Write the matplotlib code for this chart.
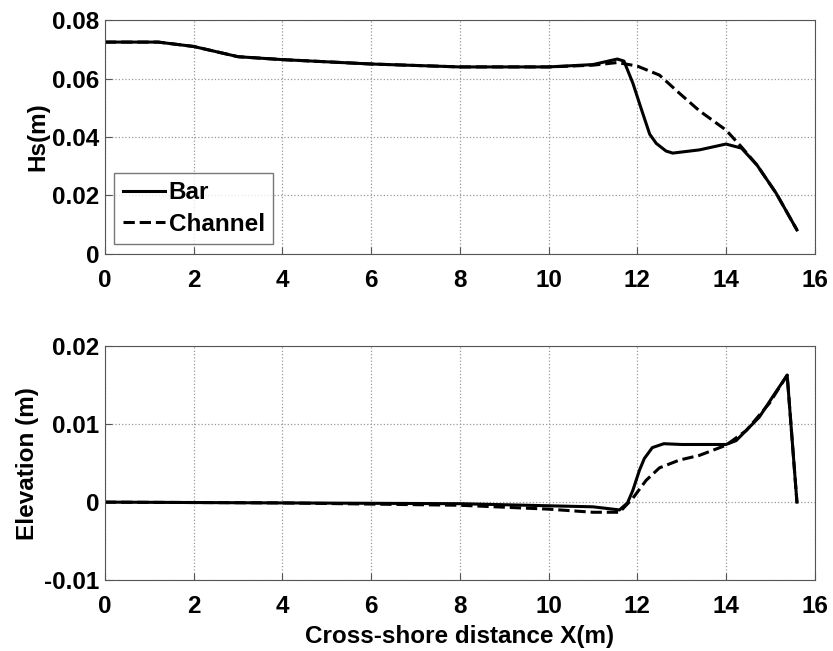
import matplotlib
matplotlib.use("Agg")
import matplotlib.pyplot as plt

# Wave height along the profile
x_hs_bar = [0, 1.2, 2, 3, 4, 6, 8, 10, 11, 11.55, 11.7, 11.9, 12.1, 12.28, 12.43, 12.65, 12.8,
            13.4, 14.0, 14.35, 14.7, 15.13, 15.6]
hs_bar = [0.0725, 0.0725, 0.071, 0.0675, 0.0665, 0.065, 0.064, 0.064, 0.0648, 0.0667, 0.066,
          0.0585, 0.0492, 0.041, 0.0378, 0.0352, 0.0345, 0.0356, 0.0376, 0.0362, 0.0304,
          0.0208, 0.0082]
x_hs_chan = [0, 1.2, 2, 3, 4, 6, 8, 10, 11, 11.55, 12.0, 12.5, 12.95, 13.4, 14.0, 14.35,
             14.7, 15.13, 15.6]
hs_chan = [0.0725, 0.0725, 0.071, 0.0675, 0.0665, 0.065, 0.064, 0.064, 0.0646, 0.0655,
           0.0643, 0.0612, 0.055, 0.049, 0.0424, 0.0366, 0.0304, 0.0208, 0.0082]

# Bed elevation along the profile
x_el_bar = [0, 4, 8, 11, 11.6, 11.78, 11.9, 12.05, 12.16, 12.34, 12.6, 13.0, 14.0, 14.23,
            14.75, 15.05, 15.38, 15.6]
el_bar = [0.0, -0.0001, -0.0002, -0.0006, -0.001, -0.0001, 0.0015, 0.0041, 0.0056, 0.007,
          0.0075, 0.0074, 0.0074, 0.0079, 0.0109, 0.0135, 0.0163, 0.0]
x_el_chan = [0, 4, 8, 10, 11, 11.6, 11.9, 12.2, 12.5, 12.95, 13.4, 14.0, 14.46, 14.98, 15.38, 15.6]
el_chan = [0.0, -0.0001, -0.0004, -0.0009, -0.0013, -0.0013, 0.0005, 0.0028, 0.0044, 0.0054,
           0.006, 0.0073, 0.0092, 0.0127, 0.0163, 0.0]

plt.rcParams['font.family'] = ['Liberation Sans', 'DejaVu Sans']
plt.rcParams['font.weight'] = 'bold'

fs = 17.5
fig = plt.figure(figsize=(8.33, 6.51), dpi=100)
ax1 = fig.add_axes([0.126, 0.610, 0.852, 0.359])
ax2 = fig.add_axes([0.126, 0.109, 0.852, 0.359])

ax1.plot(x_hs_bar, hs_bar, color='black', lw=2.2, label='Bar')
ax1.plot(x_hs_chan, hs_chan, color='black', lw=2.2, ls='--', label='Channel')
ax2.plot(x_el_bar, el_bar, color='black', lw=2.2)
ax2.plot(x_el_chan, el_chan, color='black', lw=2.2, ls='--')

ax1.set_ylim(0, 0.08)
ax1.set_yticks([0, 0.02, 0.04, 0.06, 0.08])
ax1.set_yticklabels(['0', '0.02', '0.04', '0.06', '0.08'])
ax1.set_ylabel('Hs(m)', fontsize=fs, fontweight='bold', labelpad=2)

ax2.set_ylim(-0.01, 0.02)
ax2.set_yticks([-0.01, 0, 0.01, 0.02])
ax2.set_yticklabels(['-0.01', '0', '0.01', '0.02'])
ax2.set_ylabel('Elevation (m)', fontsize=fs, fontweight='bold', labelpad=4)
ax2.set_xlabel('Cross-shore distance X(m)', fontsize=fs, fontweight='bold', labelpad=5)

for ax in (ax1, ax2):
    ax.set_xlim(0, 16)
    ax.set_xticks(range(0, 17, 2))
    ax.grid(True, ls=':', color='#999999', lw=0.9)
    ax.tick_params(direction='in', labelsize=fs, length=5, color='#555555')
    ax.tick_params(axis='x', pad=11)
    ax.tick_params(axis='y', pad=4)
    for lab in ax.get_xticklabels() + ax.get_yticklabels():
        lab.set_fontweight('bold')
    for s in ax.spines.values():
        s.set_color('#555555')

leg = ax1.legend(loc='lower left', bbox_to_anchor=(0.006, 0.02), fontsize=fs,
                 fancybox=False, edgecolor='#555555', handlelength=1.75,
                 handletextpad=0.15, borderpad=0.35, labelspacing=0.35, borderaxespad=0.2)
leg.get_frame().set_linewidth(1.0)

fig.savefig('out.png', dpi=100)
